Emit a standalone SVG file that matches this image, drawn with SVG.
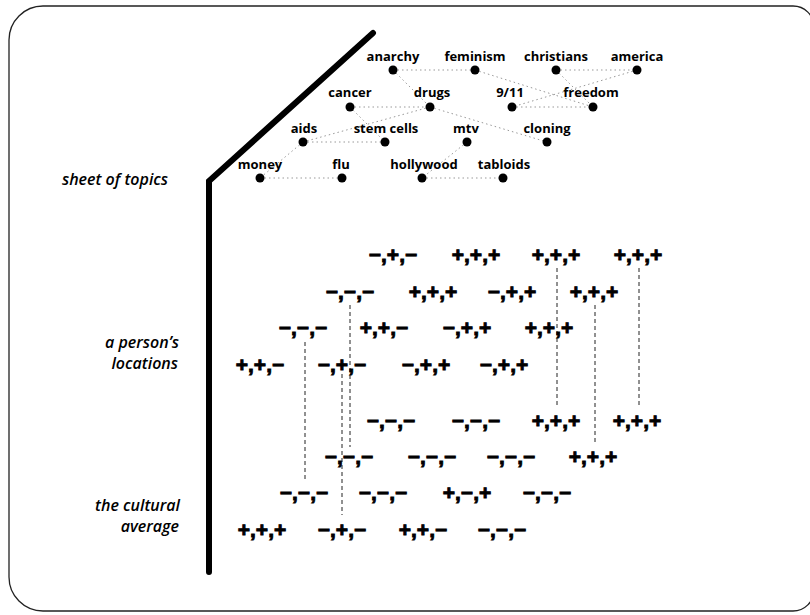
<svg xmlns="http://www.w3.org/2000/svg" width="810" height="615" viewBox="0 0 810 615">
<style>
.frame{fill:none;stroke:#222;stroke-width:1.3}
.wall{fill:none;stroke:#000;stroke-width:6;stroke-linecap:round;stroke-linejoin:miter}
.side{font-family:"Open Sans","Noto Sans",sans-serif;font-style:italic;font-weight:600;font-size:16px;fill:#000;text-anchor:end}
.tl{font-family:"Open Sans","Noto Sans",sans-serif;font-weight:700;font-size:13px;fill:#000;text-anchor:middle}
.dot{fill:#000}
.sg{font-family:"Liberation Sans",Arial,sans-serif;font-weight:bold;font-size:21px;fill:#000;stroke:#000;stroke-width:0.9;text-anchor:middle}
.link{stroke:#999;stroke-width:1;stroke-dasharray:1.5 3;fill:none}
.drop{stroke:#222;stroke-width:1;stroke-dasharray:4 3;fill:none}
</style>
<path class="frame" d="M43,6 H793 A21,21 0 0 1 814,27 V590 A21,21 0 0 1 793,611 H43 A34,34 0 0 1 9,577 V40 A34,34 0 0 1 43,6 Z"/>
<path class="wall" d="M373,33 L209,181 V572"/>
<g id="labels">
<text class="side" x="168" y="185">sheet of topics</text>
<text class="side" x="179" y="348">a person’s</text>
<text class="side" x="178" y="369">locations</text>
<text class="side" x="180" y="511">the cultural</text>
<text class="side" x="179" y="532">average</text>
</g>
<g id="connectors">
<line class="link" x1="393" y1="70" x2="475" y2="70"/>
<line class="link" x1="393" y1="70" x2="430" y2="107"/>
<line class="link" x1="475" y1="70" x2="593" y2="107"/>
<line class="link" x1="556" y1="70" x2="637" y2="70"/>
<line class="link" x1="556" y1="70" x2="593" y2="107"/>
<line class="link" x1="637" y1="70" x2="512" y2="107"/>
<line class="link" x1="512" y1="107" x2="593" y2="107"/>
<line class="link" x1="350" y1="107" x2="430" y2="107"/>
<line class="link" x1="350" y1="107" x2="385" y2="142"/>
<line class="link" x1="430" y1="107" x2="303" y2="142"/>
<line class="link" x1="430" y1="107" x2="547" y2="142"/>
<line class="link" x1="303" y1="142" x2="385" y2="142"/>
<line class="link" x1="303" y1="142" x2="260" y2="178"/>
<line class="link" x1="467" y1="142" x2="422" y2="178"/>
<line class="link" x1="260" y1="178" x2="342" y2="178"/>
<line class="link" x1="422" y1="178" x2="503" y2="178"/>
<line class="drop" x1="305" y1="342" x2="305" y2="482"/>
<line class="drop" x1="342" y1="374" x2="342" y2="515"/>
<line class="drop" x1="350" y1="305" x2="350" y2="447"/>
<line class="drop" x1="557" y1="268" x2="557" y2="408"/>
<line class="drop" x1="595" y1="305" x2="595" y2="443"/>
<line class="drop" x1="639" y1="268" x2="639" y2="407"/>
</g>
<g id="topic-anarchy"><circle class="dot" cx="393" cy="70" r="4.5"/><text class="tl" x="393" y="61">anarchy</text></g>
<g id="topic-feminism"><circle class="dot" cx="475" cy="70" r="4.5"/><text class="tl" x="475" y="61">feminism</text></g>
<g id="topic-christians"><circle class="dot" cx="556" cy="70" r="4.5"/><text class="tl" x="556" y="61">christians</text></g>
<g id="topic-america"><circle class="dot" cx="637" cy="70" r="4.5"/><text class="tl" x="637" y="61">america</text></g>
<g id="topic-cancer"><circle class="dot" cx="350" cy="107" r="4.5"/><text class="tl" x="350" y="97">cancer</text></g>
<g id="topic-drugs"><circle class="dot" cx="430" cy="107" r="4.5"/><text class="tl" x="432" y="97">drugs</text></g>
<g id="topic-911"><circle class="dot" cx="512" cy="107" r="4.5"/><text class="tl" x="510" y="97">9/11</text></g>
<g id="topic-freedom"><circle class="dot" cx="593" cy="107" r="4.5"/><text class="tl" x="591" y="97">freedom</text></g>
<g id="topic-aids"><circle class="dot" cx="303" cy="142" r="4.5"/><text class="tl" x="304" y="133">aids</text></g>
<g id="topic-stemcells"><circle class="dot" cx="385" cy="142" r="4.5"/><text class="tl" x="386" y="133">stem cells</text></g>
<g id="topic-mtv"><circle class="dot" cx="467" cy="142" r="4.5"/><text class="tl" x="466" y="133">mtv</text></g>
<g id="topic-cloning"><circle class="dot" cx="547" cy="142" r="4.5"/><text class="tl" x="547" y="133">cloning</text></g>
<g id="topic-money"><circle class="dot" cx="260" cy="178" r="4.5"/><text class="tl" x="260" y="169">money</text></g>
<g id="topic-flu"><circle class="dot" cx="342" cy="178" r="4.5"/><text class="tl" x="341" y="169">flu</text></g>
<g id="topic-hollywood"><circle class="dot" cx="422" cy="178" r="4.5"/><text class="tl" x="424" y="169">hollywood</text></g>
<g id="topic-tabloids"><circle class="dot" cx="503" cy="178" r="4.5"/><text class="tl" x="504" y="169">tabloids</text></g>
<g id="locations">
<text class="sg" x="393" y="262">−,+,−</text>
<text class="sg" x="476" y="262">+,+,+</text>
<text class="sg" x="556" y="262">+,+,+</text>
<text class="sg" x="638" y="262">+,+,+</text>
<text class="sg" x="350" y="299">−,−,−</text>
<text class="sg" x="433" y="299">+,+,+</text>
<text class="sg" x="512" y="299">−,+,+</text>
<text class="sg" x="594" y="299">+,+,+</text>
<text class="sg" x="303" y="335">−,−,−</text>
<text class="sg" x="384" y="335">+,+,−</text>
<text class="sg" x="467" y="335">−,+,+</text>
<text class="sg" x="549" y="335">+,+,+</text>
<text class="sg" x="260" y="372">+,+,−</text>
<text class="sg" x="342" y="372">−,+,−</text>
<text class="sg" x="426" y="372">−,+,+</text>
<text class="sg" x="504" y="372">−,+,+</text>
</g>
<g id="cultural-average">
<text class="sg" x="391" y="428">−,−,−</text>
<text class="sg" x="476" y="428">−,−,−</text>
<text class="sg" x="556" y="428">+,+,+</text>
<text class="sg" x="637" y="428">+,+,+</text>
<text class="sg" x="349" y="464">−,−,−</text>
<text class="sg" x="432" y="464">−,−,−</text>
<text class="sg" x="511" y="464">−,−,−</text>
<text class="sg" x="593" y="464">+,+,+</text>
<text class="sg" x="304" y="500">−,−,−</text>
<text class="sg" x="383" y="500">−,−,−</text>
<text class="sg" x="467" y="500">+,−,+</text>
<text class="sg" x="547" y="500">−,−,−</text>
<text class="sg" x="262" y="537">+,+,+</text>
<text class="sg" x="342" y="537">−,+,−</text>
<text class="sg" x="423" y="537">+,+,−</text>
<text class="sg" x="502" y="537">−,−,−</text>
</g>
</svg>
